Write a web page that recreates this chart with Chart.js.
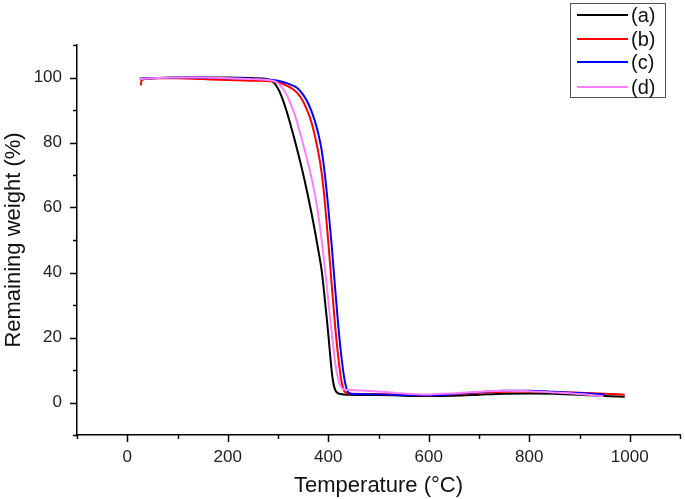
<!DOCTYPE html>
<html>
<head>
<meta charset="utf-8">
<script src="https://cdn.jsdelivr.net/npm/chart.js@4.4.1/dist/chart.umd.min.js"></script>
<style>
html,body{margin:0;padding:0;background:#fff;}
#wrap{width:685px;height:499px;position:relative;}
</style>
</head>
<body>
<div id="wrap"><canvas id="c" width="685" height="499"></canvas></div>
<script>
// ---- Data ----
const seriesLabels = ['(a)', '(b)', '(c)', '(d)'];
const seriesColors = ['#000000', '#ff0000', '#0000ff', '#ff80ff'];

const tempA   = [25, 50, 100, 150, 200, 250, 275, 285, 293, 300, 308, 316, 324, 332, 340, 347, 353, 360, 367, 374, 381, 387, 392, 397, 401, 405, 409, 413, 418, 425, 440, 500, 550, 600, 650, 700, 750, 800, 850, 900, 950, 990];
const weightA = [99.6, 99.8, 100, 100, 100, 99.8, 99.6, 99.2, 98.2, 96.6, 93.8, 90.2, 86, 81.5, 76.7, 72.3, 68.3, 63.3, 58, 52.3, 46.2, 40.5, 33.5, 26, 19.5, 12.5, 7, 4.2, 3.0, 2.6, 2.4, 2.3, 2.1, 2.0, 2.1, 2.4, 2.7, 2.8, 2.7, 2.4, 2.0, 1.8];

const tempB   = [27, 28, 35, 50, 100, 150, 200, 250, 290, 310, 330, 342, 350, 357, 364, 370, 376, 382, 387, 393, 400, 407, 414, 421, 427, 432, 440, 450, 500, 550, 600, 650, 700, 750, 800, 850, 900, 950, 990];
const weightB = [97.6, 99, 99.5, 99.8, 99.8, 99.5, 99.2, 99.0, 98.8, 98, 96.4, 94.6, 92.6, 90.3, 87.5, 84.2, 80.2, 75.5, 70.5, 62, 49.5, 36, 23, 12.5, 6, 3.5, 2.8, 2.7, 2.6, 2.3, 2.2, 2.5, 3.0, 3.3, 3.4, 3.2, 3.0, 2.7, 2.4];

const tempC   = [25, 50, 100, 150, 200, 250, 290, 310, 325, 337, 348, 356, 363, 370, 376, 382, 387, 393, 400, 407, 413, 420, 427, 433, 438, 445, 450, 500, 550, 600, 650, 700, 750, 800, 850, 900, 950];
const weightC = [99.6, 99.8, 100, 100, 99.8, 99.6, 99.2, 98.6, 97.8, 96.9, 95.1, 93.2, 91, 88.2, 85.2, 81.5, 77.5, 70.5, 60, 48, 36.5, 23.5, 13, 6.5, 3.6, 2.7, 2.6, 2.5, 2.3, 2.2, 2.6, 3.2, 3.6, 3.6, 3.3, 2.9, 2.5];

const tempD   = [25, 50, 100, 150, 200, 250, 280, 295, 305, 315, 325, 335, 343, 350, 358, 364, 370, 377, 384, 390, 397, 403, 409, 415, 421, 426, 432, 450, 500, 550, 600, 650, 700, 750, 800, 850, 900, 948];
const weightD = [99.5, 99.8, 100, 100, 99.8, 99.5, 99.2, 98.7, 97.5, 95.3, 92, 87.8, 83.5, 79.5, 74.8, 71, 66.8, 61, 53.5, 46, 36, 27, 18.5, 11, 6.5, 4.6, 4.0, 3.8, 3.4, 2.8, 2.5, 2.8, 3.3, 3.6, 3.5, 3.1, 2.6, 1.9];

const xTickLabels = [0, 200, 400, 600, 800, 1000];
const yTickLabels = [0, 20, 40, 60, 80, 100];

const temps = [tempA, tempB, tempC, tempD];
const weights = [weightA, weightB, weightC, weightD];
const drawOrder = [4, 3, 2, 1];

const FONT = '"Liberation Sans", Arial, sans-serif';

const datasets = seriesLabels.map((lab, i) => ({
  label: lab,
  data: temps[i].map((t, k) => ({x: t, y: weights[i][k]})),
  borderColor: seriesColors[i],
  backgroundColor: seriesColors[i],
  borderWidth: 2,
  pointRadius: 0,
  fill: false,
  cubicInterpolationMode: 'monotone',
  order: drawOrder[i]
}));

const tickPlugin = {
  id: 'ticks',
  afterDraw(chart) {
    const ctx = chart.ctx;
    const xs = chart.scales.x, ys = chart.scales.y;
    ctx.save();
    ctx.strokeStyle = '#000';
    ctx.lineWidth = 1.5;
    xs.ticks.forEach(t => {
      const px = Math.round(xs.getPixelForValue(t.value)) + 0.5;
      const len = xTickLabels.includes(t.value) ? 7 : 4;
      ctx.beginPath(); ctx.moveTo(px, xs.top); ctx.lineTo(px, xs.top + len); ctx.stroke();
    });
    ys.ticks.forEach(t => {
      const py = Math.round(ys.getPixelForValue(t.value)) + 0.5;
      const len = yTickLabels.includes(t.value) ? 7 : 4;
      ctx.beginPath(); ctx.moveTo(ys.right, py); ctx.lineTo(ys.right - len, py); ctx.stroke();
    });
    ctx.restore();
  }
};

const legendPlugin = {
  id: 'boxLegend',
  afterDraw(chart) {
    const ctx = chart.ctx;
    ctx.save();
    ctx.strokeStyle = '#555';
    ctx.lineWidth = 1;
    ctx.strokeRect(570.5, 3.5, 95, 94);
    const rows = [15, 39, 62, 87];
    chart.data.datasets.forEach((ds, i) => {
      const y = rows[i];
      ctx.strokeStyle = ds.borderColor;
      ctx.lineWidth = 2;
      ctx.beginPath(); ctx.moveTo(577, y); ctx.lineTo(628, y); ctx.stroke();
      ctx.fillStyle = '#111';
      ctx.font = '20px ' + FONT;
      ctx.textBaseline = 'middle';
      ctx.textAlign = 'left';
      ctx.fillText(ds.label, 631, y + 1);
    });
    ctx.restore();
  }
};

new Chart(document.getElementById('c'), {
  type: 'line',
  data: { datasets },
  options: {
    responsive: false,
    animation: false,
    layout: { padding: { top: 45, right: 4, left: 0, bottom: 0 } },
    plugins: { legend: { display: false }, tooltip: { enabled: false } },
    scales: {
      x: {
        type: 'linear',
        min: -100, max: 1100,
        afterFit(s) { s.height = 64; },
        border: { display: true, color: '#000', width: 1.5 },
        grid: { display: true, drawOnChartArea: false, drawTicks: true, tickLength: 7, tickColor: 'rgba(0,0,0,0)' },
        ticks: {
          stepSize: 100, autoSkip: false, maxRotation: 0, padding: 5,
          color: '#222', font: { family: FONT, size: 17 },
          callback: v => xTickLabels.includes(v) ? String(v) : ''
        },
        title: { display: true, text: 'Temperature (°C)', color: '#111', font: { family: FONT, size: 22 }, padding: { top: 0, bottom: 0 } }
      },
      y: {
        type: 'linear',
        min: -10, max: 110,
        afterFit(s) { s.width = 77; },
        border: { display: true, color: '#000', width: 1.5 },
        grid: { display: true, drawOnChartArea: false, drawTicks: true, tickLength: 7, tickColor: 'rgba(0,0,0,0)' },
        ticks: {
          stepSize: 10, autoSkip: false, padding: 8,
          color: '#222', font: { family: FONT, size: 17 },
          callback: v => yTickLabels.includes(v) ? String(v) : ''
        },
        title: { display: true, text: 'Remaining weight (%)', color: '#111', font: { family: FONT, size: 22 }, padding: { top: 1, bottom: 0 } }
      }
    }
  },
  plugins: [tickPlugin, legendPlugin]
});
</script>
</body>
</html>
